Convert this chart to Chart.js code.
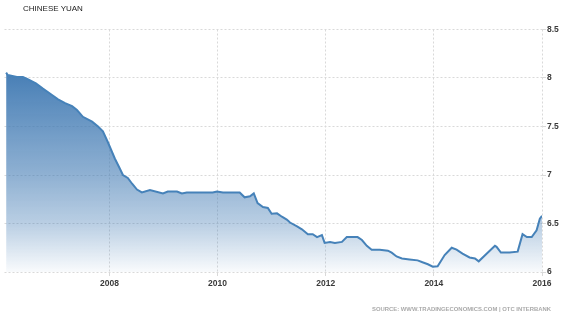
<!DOCTYPE html>
<html>
<head>
<meta charset="utf-8">
<script src="https://cdn.jsdelivr.net/npm/chart.js@4"></script>
<style>
    body { margin: 0; background: #fff; }
    #wrap { position: relative; width: 565px; height: 318px; }
    #title {
        position: absolute; left: 23px; top: 4px;
        font: 8px "Liberation Sans", Arial, sans-serif; color: #222;
        line-height: 10px;
    }
    #source {
        position: absolute; right: 14px; top: 305px;
        font: bold 5.9px "Liberation Sans", Arial, sans-serif; color: #aaa;
        line-height: 8px;
    }
</style>
</head>
<body>
<div id="wrap">
    <canvas id="yuan" width="565" height="318"></canvas>
    <div id="title">CHINESE YUAN</div>
    <div id="source">SOURCE: WWW.TRADINGECONOMICS.COM | OTC INTERBANK</div>
</div>
<script>
// dates as decimal years
const dates = [
    2006.09, 2006.12, 2006.29, 2006.40, 2006.48, 2006.64, 2006.77, 2006.90,
    2007.05, 2007.18, 2007.31, 2007.40, 2007.51, 2007.68, 2007.79, 2007.88, 2007.97,
    2008.10, 2008.19, 2008.25, 2008.34, 2008.42, 2008.51, 2008.60, 2008.75, 2008.99,
    2009.08, 2009.25, 2009.34, 2009.43, 2009.91, 2009.99,
    2010.10, 2010.41, 2010.50, 2010.60, 2010.67, 2010.74, 2010.84, 2010.93,
    2011.00, 2011.10, 2011.19, 2011.28, 2011.34, 2011.47, 2011.56, 2011.67, 2011.76, 2011.84, 2011.93, 2011.98,
    2012.08, 2012.17, 2012.30, 2012.39, 2012.48, 2012.59, 2012.67, 2012.76, 2012.85,
    2013.00, 2013.15, 2013.22, 2013.31, 2013.41, 2013.55, 2013.70, 2013.79, 2013.89, 2013.98,
    2014.07, 2014.20, 2014.33, 2014.42, 2014.53, 2014.66, 2014.76, 2014.83, 2014.98,
    2015.13, 2015.16, 2015.24, 2015.40, 2015.55, 2015.64, 2015.72, 2015.81, 2015.90, 2015.96, 2016.00,
];
const rates = [
    8.055, 8.03, 8.01, 8.01, 7.99, 7.945, 7.89, 7.84,
    7.78, 7.74, 7.71, 7.67, 7.60, 7.55, 7.50, 7.45, 7.34,
    7.17, 7.07, 7.00, 6.97, 6.91, 6.85, 6.82, 6.845, 6.81,
    6.83, 6.83, 6.81, 6.82, 6.82, 6.83,
    6.82, 6.82, 6.77, 6.78, 6.81, 6.71, 6.67, 6.66,
    6.60, 6.605, 6.57, 6.54, 6.51, 6.47, 6.44, 6.39, 6.39, 6.36, 6.38, 6.30,
    6.31, 6.30, 6.31, 6.36, 6.36, 6.36, 6.33, 6.27, 6.23,
    6.23, 6.22, 6.20, 6.16, 6.14, 6.13, 6.12, 6.10, 6.08, 6.055,
    6.06, 6.175, 6.25, 6.23, 6.19, 6.15, 6.14, 6.11, 6.19,
    6.27, 6.26, 6.20, 6.20, 6.21, 6.39, 6.36, 6.36, 6.43, 6.55, 6.58,
];
const yearTicks = [2008, 2010, 2012, 2014, 2016];
const rateTicks = [6, 6.5, 7, 7.5, 8, 8.5];

const points = dates.map((d, i) => ({ x: d, y: rates[i] }));
const tickFont = { family: "Liberation Sans", size: 8.5, weight: "bold" };

function areaFill(context) {
    const { ctx, chartArea } = context.chart;
    if (!chartArea) return "rgba(62,120,178,0.5)";
    const g = ctx.createLinearGradient(0, chartArea.top, 0, chartArea.bottom);
    g.addColorStop(0, "rgba(62,120,178,1)");
    g.addColorStop(0.2, "rgba(62,120,178,0.93)");
    g.addColorStop(0.6, "rgba(62,120,178,0.58)");
    g.addColorStop(0.8, "rgba(62,120,178,0.36)");
    g.addColorStop(1, "rgba(62,120,178,0.03)");
    return g;
}

const chart = new Chart(document.getElementById("yuan"), {
    type: "line",
    data: {
        datasets: [
            {
                data: points,
                borderColor: "#4682b9",
                borderWidth: 2,
                backgroundColor: areaFill,
                fill: "start",
                tension: 0,
                pointRadius: 0,
            },
        ],
    },
    options: {
        responsive: false,
        animation: false,
        layout: {
            padding: { top: 29.5, left: 4.5, right: 0, bottom: 20 },
        },
        plugins: {
            legend: { display: false },
            tooltip: { enabled: false },
        },
        scales: {
            x: {
                type: "linear",
                min: 2006.06,
                max: 2016,
                afterFit: (scale) => {
                    scale.height = 26;
                },
                afterBuildTicks: (scale) => {
                    scale.ticks = yearTicks.map((v) => ({ value: v }));
                },
                ticks: {
                    font: tickFont,
                    color: "#3a3a3a",
                    padding: 3,
                    maxRotation: 0,
                    callback: (v) => String(v),
                },
                grid: {
                    color: "#d9d9d9",
                    tickLength: 4,
                },
                border: { display: false, dash: [2, 2] },
            },
            y: {
                position: "right",
                min: 6,
                max: 8.5,
                afterFit: (scale) => {
                    scale.width = 23;
                },
                afterBuildTicks: (scale) => {
                    scale.ticks = rateTicks.map((v) => ({ value: v }));
                },
                ticks: {
                    font: tickFont,
                    color: "#3a3a3a",
                    padding: 1,
                    callback: (v) => String(v),
                },
                grid: {
                    color: "#d9d9d9",
                    tickLength: 4,
                },
                border: { display: false, dash: [2, 2] },
            },
        },
    },
});
</script>
</body>
</html>
